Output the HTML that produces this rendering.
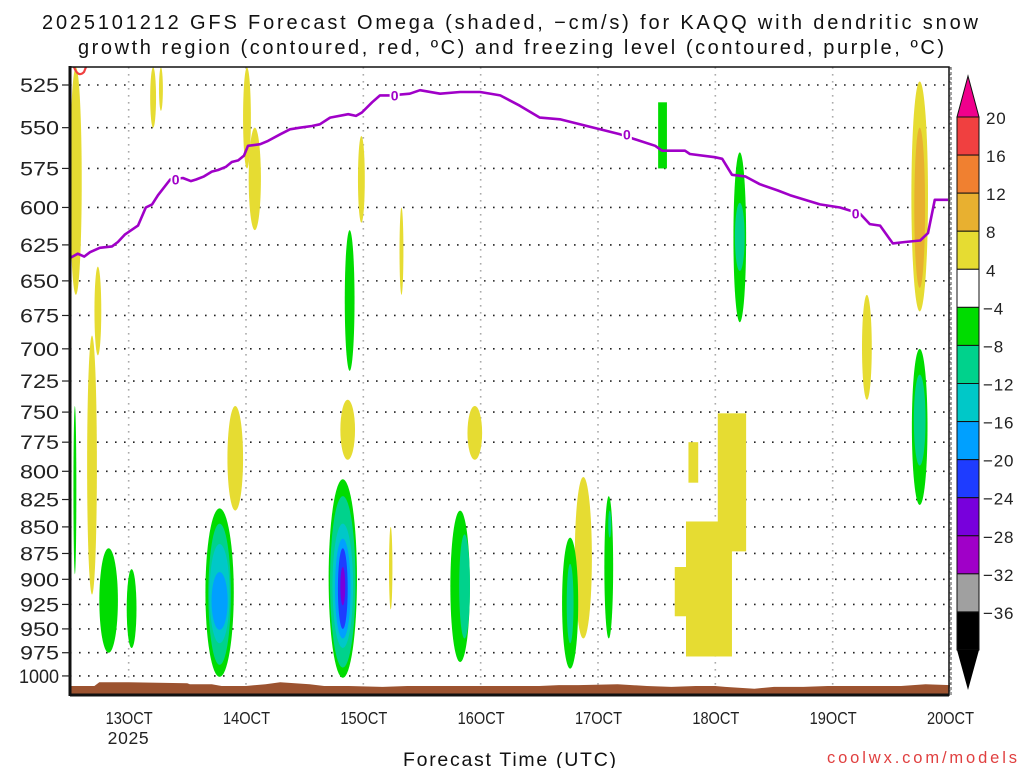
<!DOCTYPE html>
<html><head><meta charset="utf-8"><style>
html,body{margin:0;padding:0;background:#fff;}
svg{display:block;font-family:"Liberation Sans",sans-serif;}
</style></head><body>
<svg id="chart" width="1024" height="768" viewBox="0 0 1024 768" xmlns="http://www.w3.org/2000/svg">
<text x="42" y="29" font-size="20" textLength="936" lengthAdjust="spacing" fill="#111">2025101212 GFS Forecast Omega (shaded, −cm/s) for KAQQ with dendritic snow</text>
<text x="78" y="54" font-size="20" textLength="866" lengthAdjust="spacing" fill="#111">growth region (contoured, red, ºC) and freezing level (contoured, purple, ºC)</text>
<g id="grid"></g>
<g id="shade"></g>
<g id="terrain"></g>
<g id="frz"></g>
<g id="axes"></g>
<g id="cbar"></g>
<text x="403" y="766" font-size="19.5" textLength="213" lengthAdjust="spacing" fill="#111">Forecast Time (UTC)</text>
<text x="827" y="763" font-size="16.5" textLength="190" lengthAdjust="spacing" fill="#e04040">coolwx.com/models</text>
</svg>
<script>
const pTicks=[525,550,575,600,625,650,675,700,725,750,775,800,825,850,875,900,925,950,975,1000];
const dayHours=[12,36,60,84,108,132,156,180];
const dayLabels=["13OCT","14OCT","15OCT","16OCT","17OCT","18OCT","19OCT","20OCT"];
const levelColors=["#f0008c","#f04040","#f08030","#e8b030","#e6dc32","#ffffff","#00dc00","#00d28c","#00c8c8","#00a0ff","#1e3cff","#7800dc","#a000c8","#a0a0a0","#000000"];
const cbarLabels=["20","16","12","8","4","−4","−8","−12","−16","−20","−24","−28","−32","−36"];
// shaded features: center hour, width (hours), top pressure, bottom pressure, color index
const blobH=[1.2,4.5,5.7,17,18.6,36.2,37.8,33.8,56.8,59.6,67.8,82.8,65.6,105,163,173.8,173.8,
 1,7.9,12.6,30.6,30.6,30.6,30.6,55.8,55.8,55.8,55.8,55.8,55.8,57.2,79.8,80.7,102.3,102.3,110.2,110.4,137,137,173.8,173.8];
const blobW=[2.4,2,1.4,1.2,0.8,1.6,2.5,3.2,3,1.4,0.8,3,0.7,3.5,2,3.4,2.2,
 0.6,3.8,2,5.8,4.6,4.1,3.3,5.8,5.2,4.2,3.2,2.0,1.0,2,4,2.2,3.3,1.4,1.8,0.6,2.6,2,3.2,2.4];
const blobTop=[515,690,640,515,515,515,550,745,740,555,600,745,850,805,660,523,550,
 745,870,890,833,847,866,893,807,822,847,861,870,888,615,835,857,860,885,822,835,565,597,700,720];
const blobBot=[660,915,705,550,540,575,615,835,790,610,660,790,930,960,740,672,655,
 895,975,970,1001,988,965,951,1002,991,970,960,950,926,717,985,960,992,965,960,860,680,643,830,795];
const blobLvl=[4,4,4,4,4,4,4,4,4,4,4,4,4,4,4,4,3,
 6,6,6,6,7,8,9,6,7,8,9,10,11,6,6,7,6,7,6,7,6,7,6,7];
// rectangular features: hour start, hour end, top p, bottom p, color index
const rectH0=[120.3,123.7,126,132.5,126.5];
const rectH1=[122.1,128,135.4,138.3,128.5];
const rectP0=[535,888,845,751,775];
const rectP1=[575,937,979,873,810];
const rectLvl=[6,4,4,4,4];
// freezing level (0 C) hours and pressures
const frzH=[0,1.6,2.9,4.1,6.1,8.6,9.8,11.2,13.9,15.5,16.8,18.0,20.5,23.1,24.7,25.8,27.4,29.0,30.3,31.9,33.1,34.4,35.6,36.4,38.9,40.5,43.0,45.0,47.0,49.5,51.1,53.2,56.9,58.5,59.7,61.8,63.4,65.5,69.5,71.6,75.7,79.8,83.9,88.0,92.0,96.1,100.2,104.3,108.4,112.5,116.6,119.7,121.1,125.8,126.8,131.9,133.4,135.4,138.1,141.1,144.8,147.3,149.3,153.4,157.5,161.6,163.6,165.7,168.3,170.8,173.9,175.5,176.9,179.6];
const frzP=[634,631,633,630,627,626,623,618,612,600,598,592,582,581,583,582,580,577,576,574,571,570,567,561,560,558,554,551,550,549,548,544,542,543,541,535,531,531,530,528,530,529,529,531,537,544,545,548,551,554,558,561,564,564,566,568,569,579,580,585,589,592,594,598,600,604,611,612,624,623,622,617,595,595];
const frzLabelH=[21.6,66.4,113.9,160.7];
// surface (terrain) pressure
const sfcH=[0,5,6,12,24,24.5,29,31,36,40,43,49,52,57,64,69,74,84,88,96,100,104,112,118,123,128,132,134,140,144,150,155,160,165,170,175,180];
const sfcP=[1011,1011,1007,1007,1008,1009,1009,1011,1011,1009,1007,1009,1011,1011,1012,1011,1011,1011,1011,1011,1010,1010,1009,1011,1012,1011,1011,1012,1014,1012,1012,1011,1011,1011,1011,1009,1010];

const X0=70,X1=949,T0=67,B0=695;
function xS(h){return X0+h*(880/180);}
function yS(p){return 85+917.1*Math.log(p/525);}
const NS="http://www.w3.org/2000/svg";
function mk(tag,parent,attrs){const e=document.createElementNS(NS,tag);for(const k in attrs)e.setAttribute(k,attrs[k]);parent.appendChild(e);return e;}
const grid=document.getElementById('grid'),shade=document.getElementById('shade'),terr=document.getElementById('terrain'),frz=document.getElementById('frz'),axes=document.getElementById('axes'),cbar=document.getElementById('cbar');

pTicks.forEach(p=>{
 const l=mk('line',grid,{x1:X0,x2:X1,y1:yS(p),y2:yS(p),stroke:'#222','stroke-width':1.6,'stroke-dasharray':'1.6 7.4'});
 
 
});
dayHours.forEach((h,i)=>{
 const l=mk('line',grid,{x1:xS(h),x2:xS(h),y1:T0,y2:B0,stroke:'#aaa','stroke-width':1.6,'stroke-dasharray':'1.6 5.4'});
 
 
});

for(let i=0;i<blobH.length;i++){
 const yt=yS(blobTop[i]),yb=yS(blobBot[i]);
 const e=mk('ellipse',shade,{cx:xS(blobH[i]),cy:(yt+yb)/2,rx:blobW[i]*880/180/2,ry:(yb-yt)/2,fill:levelColors[blobLvl[i]]});
 
 
}
for(let i=0;i<rectH0.length;i++){
 const r=mk('rect',shade,{x:xS(rectH0[i]),y:yS(rectP0[i]),width:xS(rectH1[i])-xS(rectH0[i]),height:yS(rectP1[i])-yS(rectP0[i]),fill:levelColors[rectLvl[i]]});
 
 
}
const dgz=mk('path',shade,{d:'M74 67 Q78 78 84 72 L86 67',fill:'none',stroke:'#f04040','stroke-width':2.2});



let td='M'+X0+' '+B0;
sfcH.forEach((h,i)=>{td+=' L'+xS(h).toFixed(1)+' '+yS(sfcP[i]).toFixed(1);});
td+=' L'+X1+' '+B0+' Z';
const tp=mk('path',terr,{d:td,fill:'#9c5330'});



let fd='';
frzH.forEach((h,i)=>{fd+=(i?' L':'M')+xS(h).toFixed(1)+' '+yS(frzP[i]).toFixed(1);});
const fl=mk('path',frz,{d:fd,fill:'none',stroke:'#a000c8','stroke-width':2.6,'stroke-linejoin':'round'});


frzLabelH.forEach(h=>{
 let k=0;for(let i=0;i<frzH.length;i++)if(Math.abs(frzH[i]-h)<Math.abs(frzH[k]-h))k=i;
 const cx=xS(h),cy=yS(frzP[k]);
 mk('rect',frz,{x:cx-5,y:cy-8,width:10,height:14,fill:'#fff'});
 const t=mk('text',frz,{x:cx,y:cy+5,'font-size':14,'font-weight':'bold','text-anchor':'middle',fill:'#a000c8'});
 t.textContent='0';
 
 
});

mk('rect',axes,{x:X0,y:T0,width:X1-X0,height:B0-T0,fill:'none',stroke:'#111','stroke-width':1.5});
mk('line',axes,{x1:X0,x2:X0,y1:T0-1,y2:B0+1,stroke:'#111','stroke-width':3});
mk('line',axes,{x1:X0,x2:X1,y1:B0,y2:B0,stroke:'#111','stroke-width':3});
mk('line',axes,{x1:X1+2,x2:X1+2,y1:T0,y2:B0,stroke:'#444','stroke-width':1,'stroke-dasharray':'3 2'});
pTicks.forEach(p=>{
 const s=String(p);
 const w=s.length===4?41:40;
 const t=mk('text',axes,{x:60-w,y:yS(p)+7,'font-size':19,fill:'#222',textLength:w-1,lengthAdjust:'spacingAndGlyphs'});
 t.textContent=s;
 
 
 mk('line',axes,{x1:62,x2:X0,y1:yS(p),y2:yS(p),stroke:'#222','stroke-width':1.2});
});
dayHours.forEach((h,i)=>{
 const t=mk('text',axes,{x:xS(h)-23,y:724,'font-size':17.5,fill:'#222',textLength:47,lengthAdjust:'spacingAndGlyphs'});
 t.textContent=dayLabels[i];
 
 
});
const yr=mk('text',axes,{x:xS(12)-21,y:744,'font-size':17.5,fill:'#222',textLength:41,lengthAdjust:'spacing'});
yr.textContent='2025';



const CB0=117,CBH=(650-117)/14,CX0=957,CX1=979;
for(let i=0;i<14;i++){
 const r=mk('rect',cbar,{x:CX0,y:CB0+i*CBH,width:CX1-CX0,height:CBH,fill:levelColors[i+1],stroke:'#111','stroke-width':1});
 
 
}
const tt=mk('polygon',cbar,{points:`${CX0},${CB0} ${CX1},${CB0} ${(CX0+CX1)/2},76`,fill:levelColors[0],stroke:'#111','stroke-width':1});


const bt=mk('polygon',cbar,{points:`${CX0},650 ${CX1},650 ${(CX0+CX1)/2},690`,fill:'#000'});


cbarLabels.forEach((s,i)=>{
 const t=mk('text',cbar,{x:s[0]==='−'?983:986,y:CB0+i*CBH+7,'font-size':17,fill:'#222','letter-spacing':'0.8'});
 t.textContent=s;
 
 
});
</script>
</body></html>
